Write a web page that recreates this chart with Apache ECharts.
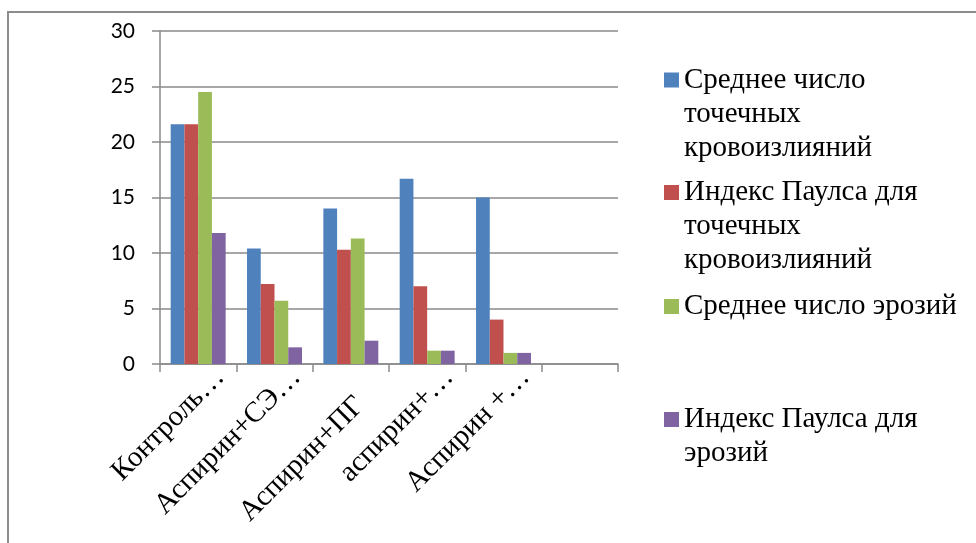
<!DOCTYPE html>
<html>
<head>
<meta charset="utf-8">
<script src="https://cdn.jsdelivr.net/npm/echarts@6/dist/echarts.min.js"></script>
<style>
  html, body { margin: 0; padding: 0; background: #fff; }
  #chart { width: 976px; height: 543px; }
</style>
</head>
<body>
<div id="chart"></div>
<script>
// Groups on the category axis (the sixth slot is left empty)
const categories = ['Контроль…', 'Аспирин+СЭ…', 'Аспирин+ПГ', 'аспирин+…', 'Аспирин +…', ''];

// Series names and the way they wrap in the legend
const seriesNames = [
  'Среднее число точечных кровоизлияний',
  'Индекс Паулса для точечных кровоизлияний',
  'Среднее число эрозий',
  'Индекс Паулса для эрозий'
];
const legendLines = [
  ['Среднее число', 'точечных', 'кровоизлияний'],
  ['Индекс Паулса для', 'точечных', 'кровоизлияний'],
  ['Среднее число эрозий'],
  ['Индекс Паулса для', 'эрозий']
];

// Values per series, one per group
const meanHemorrhages = [21.6, 10.4, 14.0, 16.7, 15.0, null];
const paulsHemorrhages = [21.6, 7.2, 10.3, 7.0, 4.0, null];
const meanErosions = [24.5, 5.7, 11.3, 1.2, 1.0, null];
const paulsErosions = [11.8, 1.5, 2.1, 1.2, 1.0, null];

const yTicks = { min: 0, max: 30, interval: 5 };

const colors = ['#4F81BD', '#C0504D', '#9BBB59', '#8064A2'];
const seriesValues = [meanHemorrhages, paulsHemorrhages, meanErosions, paulsErosions];

const SERIF = 'Liberation Serif';
const SANS = 'Lato';
const LINE_H = 34;
const ICON = 15;
const legendIconTops = [72.5, 185, 299, 412];

const chart = echarts.init(document.getElementById('chart'), null, { renderer: 'canvas' });

// Each legend block is centred on its swatch; blank lines above the text
// put the swatch beside the first line instead.
const legends = seriesNames.map((name, i) => {
  const n = legendLines[i].length;
  const lines = [];
  for (let k = 1; k < n; k++) lines.push('{s| }');
  legendLines[i].forEach((l) => lines.push('{s|' + l + '}'));
  return {
    data: [name],
    orient: 'vertical',
    left: 664,
    top: legendIconTops[i] - (2 * n - 1) * LINE_H / 2 + ICON / 2,
    padding: 0,
    itemWidth: ICON,
    itemHeight: ICON,
    itemGap: 0,
    icon: 'rect',
    selectedMode: false,
    formatter: () => lines.join('\n'),
    textStyle: {
      fontFamily: SERIF,
      fontSize: 29,
      color: '#000',
      lineHeight: LINE_H,
      rich: {
        s: { fontFamily: SERIF, fontSize: 29, lineHeight: LINE_H, color: '#000' }
      }
    }
  };
});

const option = {
  backgroundColor: '#fff',
  animation: false,
  graphic: [{
    type: 'rect',
    shape: { x: 8, y: 12, width: 1000, height: 600 },
    style: { fill: 'none', stroke: '#8c8c8c', lineWidth: 2 },
    silent: true
  }],
  legend: legends,
  grid: { left: 160, right: 358, top: 31, bottom: 179, containLabel: false },
  xAxis: {
    type: 'category',
    data: categories,
    axisLine: { show: true, lineStyle: { color: '#8a8a8a', width: 1.5 } },
    axisTick: { show: true, length: 8, lineStyle: { color: '#8a8a8a', width: 1.5 } },
    axisLabel: {
      interval: 0,
      rotate: 45,
      align: 'right',
      verticalAlign: 'middle',
      margin: -13,
      fontFamily: SERIF,
      fontSize: 29,
      color: '#000',
      // truncated names sit higher; the full name is pushed further down
      formatter: (value) => {
        if (!value) return '';
        const full = value.indexOf('…') < 0;
        const tail = full ? '    ' : '';
        return '{' + (full ? 'gapL' : 'gapS') + '| }\n{t|' + value + tail + '}';
      },
      rich: {
        gapS: { lineHeight: 62, fontSize: 10, fontFamily: SERIF },
        gapL: { lineHeight: 84, fontSize: 10, fontFamily: SERIF },
        t: { lineHeight: 34, fontSize: 29, fontFamily: SERIF, color: '#000' }
      }
    },
    splitLine: { show: false }
  },
  yAxis: {
    type: 'value',
    min: yTicks.min,
    max: yTicks.max,
    interval: yTicks.interval,
    axisLine: { show: true, lineStyle: { color: '#8a8a8a', width: 1.5 } },
    axisTick: { show: true, length: 8, lineStyle: { color: '#8a8a8a', width: 1.5 } },
    axisLabel: {
      margin: 25,
      fontFamily: SANS,
      fontSize: 21,
      color: '#000'
    },
    splitLine: { show: true, lineStyle: { color: '#8a8a8a', width: 1.5 } }
  },
  series: seriesNames.map((name, i) => ({
    name,
    type: 'bar',
    data: seriesValues[i],
    barGap: '0%',
    barCategoryGap: '28%',
    itemStyle: { color: colors[i] }
  }))
};

chart.setOption(option);
</script>
</body>
</html>
